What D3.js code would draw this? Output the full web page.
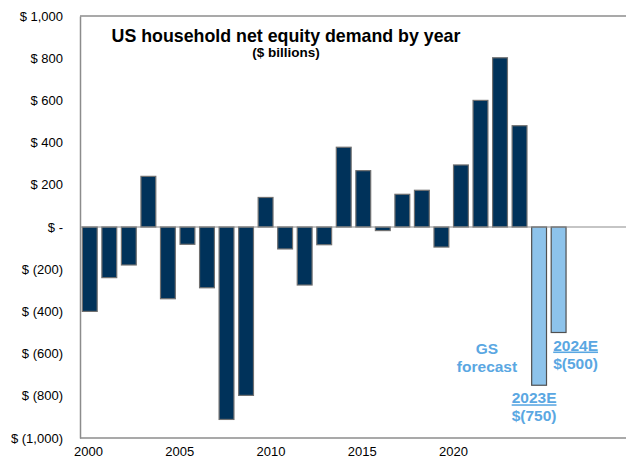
<!DOCTYPE html>
<html>
<head>
<meta charset="utf-8">
<script src="https://cdn.jsdelivr.net/npm/d3@7"></script>
<style>
  html, body { margin: 0; padding: 0; background: #fff; }
  svg { display: block; font-family: "Liberation Sans", Arial, sans-serif; }
</style>
</head>
<body>
<svg id="chart" width="626" height="462"></svg>
<script>
// years and net equity demand ($ billions)
const years = d3.range(2000, 2025);
const demand = [-400, -240, -180, 240, -340, -82, -288, -912, -798, 140,
                -104, -275, -84, 378, 267, -17, 155, 174, -95, 294,
                600, 802, 480, -750, -500];
const forecastYears = [2023, 2024];
const yTicks = [1000, 800, 600, 400, 200, 0, -200, -400, -600, -800, -1000];
const xTicks = [2000, 2005, 2010, 2015, 2020];
const notes = [
  { year: 2023, label: '2023E', value: '$(750)' },
  { year: 2024, label: '2024E', value: '$(500)' }
];

const width = 626, height = 462;
const margin = { top: 16, right: 0, bottom: 24, left: 80 };
const svg = d3.select('#chart');

// extra empty slots on the right, like the source chart
const slots = d3.range(2000, 2028);
const x = d3.scaleBand().domain(slots).range([margin.left, width + 1])
  .paddingInner(0.24).paddingOuter(0.12);
const y = d3.scaleLinear().domain([-1000, 1000]).range([height - margin.bottom, margin.top]);
// year labels sit on their own date-like scale
const xLab = d3.scaleLinear().domain([2000, 2020]).range([88, 453]);

const fmt = v => v === 0 ? '$ -' : v < 0 ? `$ (${d3.format(',')(-v)})` : `$ ${d3.format(',')(v)}`;

// frame lines
const frame = '#8c8c8c';
svg.append('line').attr('x1', margin.left).attr('x2', width)
  .attr('y1', y(1000)).attr('y2', y(1000)).attr('stroke', frame).attr('stroke-width', 1.5);
svg.append('line').attr('x1', margin.left).attr('x2', width)
  .attr('y1', y(-1000)).attr('y2', y(-1000)).attr('stroke', frame).attr('stroke-width', 1.5);

// y axis
const yAxis = svg.append('g')
  .attr('transform', `translate(${margin.left},0)`)
  .call(d3.axisLeft(y).tickValues(yTicks).tickFormat(fmt).tickSize(0).tickPadding(17));
yAxis.select('.domain').attr('stroke', frame).attr('stroke-width', 1.5);
yAxis.selectAll('text').attr('font-size', 13).attr('fill', '#000')
  .attr('font-family', '"Liberation Sans", Arial, sans-serif');

// x axis labels
const xAxis = svg.append('g')
  .attr('transform', `translate(0,${y(-1000)})`)
  .call(d3.axisBottom(xLab).tickValues(xTicks).tickFormat(d3.format('d')).tickSize(0).tickPadding(9));
xAxis.select('.domain').remove();
xAxis.selectAll('text').attr('font-size', 13).attr('fill', '#000')
  .attr('font-family', '"Liberation Sans", Arial, sans-serif');

// bars
svg.append('g').selectAll('rect')
  .data(years.map((yr, i) => ({ yr, v: demand[i] })))
  .join('rect')
  .attr('x', d => x(d.yr))
  .attr('width', x.bandwidth())
  .attr('y', d => y(Math.max(0, d.v)))
  .attr('height', d => Math.abs(y(d.v) - y(0)))
  .attr('fill', d => forecastYears.includes(d.yr) ? '#8dc3eb' : '#00325a')
  .attr('stroke', d => forecastYears.includes(d.yr) ? '#505050' : '#707070')
  .attr('stroke-width', 1.2);

// zero line
svg.append('line').attr('x1', margin.left).attr('x2', width)
  .attr('y1', y(0)).attr('y2', y(0)).attr('stroke', frame).attr('stroke-width', 1.2);

// title
svg.append('text').attr('x', 286).attr('y', 42).attr('text-anchor', 'middle')
  .attr('font-size', 17.8).attr('font-weight', 'bold')
  .text('US household net equity demand by year');
svg.append('text').attr('x', 286).attr('y', 57).attr('text-anchor', 'middle')
  .attr('font-size', 13.5).attr('font-weight', 'bold')
  .text('($ billions)');

// forecast annotations
const blue = '#5aa7e2';
const ann = svg.append('g').attr('fill', blue).attr('font-weight', 'bold')
  .attr('font-size', 15.5).attr('text-anchor', 'middle');
ann.append('text').attr('x', 487).attr('y', 354).text('GS');
ann.append('text').attr('x', 487).attr('y', 372).text('forecast');
notes.forEach(n => {
  const cx = x(n.year) + x.bandwidth() / 2 + (n.year === 2023 ? -5 : 17);
  const by = y(demand[years.indexOf(n.year)]) + 18;
  ann.append('text').attr('x', cx).attr('y', by)
    .attr('text-decoration', 'underline').text(n.label);
  ann.append('text').attr('x', cx).attr('y', by + 18).text(n.value);
});
</script>
</body>
</html>
